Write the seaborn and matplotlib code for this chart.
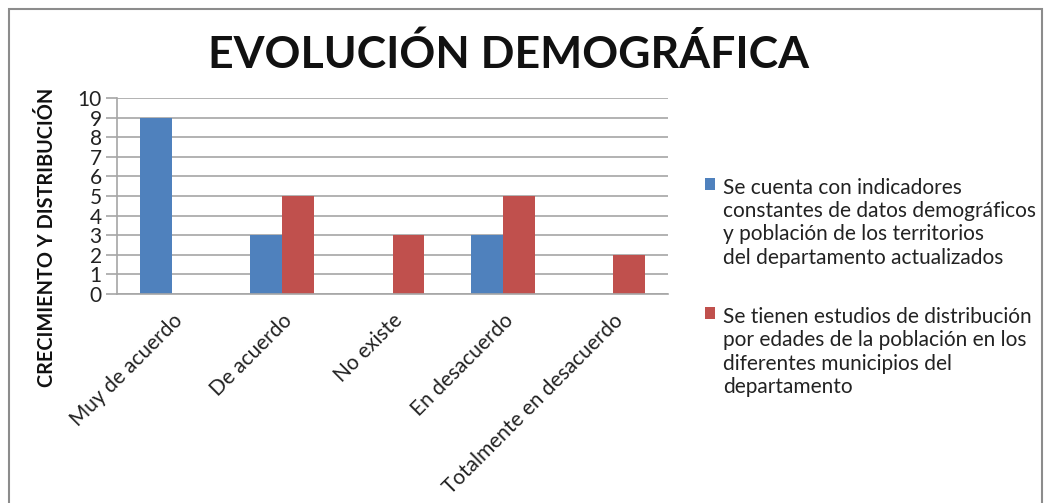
import matplotlib
matplotlib.use("Agg")
import matplotlib.pyplot as plt
import seaborn as sns
import pandas as pd
from matplotlib.patches import Rectangle, Patch

categories = ["Muy de acuerdo", "De acuerdo", "No existe", "En desacuerdo", "Totalmente en desacuerdo"]
series_names = [
    "Se cuenta con indicadores\nconstantes de datos demográficos\ny población de los territorios\ndel departamento actualizados",
    "Se tienen estudios de distribución\npor edades de la población en los\ndiferentes municipios del\ndepartamento",
]
serie_indicadores = [9, 3, 0, 3, 0]
serie_estudios = [0, 5, 3, 5, 2]
y_ticks = [0, 1, 2, 3, 4, 5, 6, 7, 8, 9, 10]
title = "EVOLUCIÓN DEMOGRÁFICA"
y_label = "CRECIMIENTO Y DISTRIBUCIÓN"
colors = ["#4F81BD", "#C0504D"]

df = pd.DataFrame({
    "categoria": categories * 2,
    "serie": [series_names[0]] * len(categories) + [series_names[1]] * len(categories),
    "valor": serie_indicadores + serie_estudios,
})

sns.set_theme(style="white")
plt.rcParams["font.family"] = ["Lato", "DejaVu Sans"]

fig = plt.figure(figsize=(10.5, 5.03), dpi=100)
fig.patch.set_facecolor("white")
fig.patches.append(Rectangle((9 / 1050, -0.05), 1033 / 1050, 1 - 9 / 503 + 0.05,
                             transform=fig.transFigure, fill=False,
                             edgecolor="#8c8c8c", linewidth=1.5))

ax = fig.add_axes([117 / 1050, 1 - 294 / 503, 551 / 1050, 196 / 503])
sns.barplot(data=df, x="categoria", y="valor", hue="serie", palette=colors,
            width=0.58, ax=ax, legend=False, saturation=1, linewidth=0)

ax.set_ylim(0, 10)
ax.set_xlim(-0.5, len(categories) - 0.5)
ax.set_yticks(y_ticks)
ax.set_yticklabels([str(t) for t in y_ticks], fontsize=15, color="#222222")
ax.yaxis.grid(True, color="#a6a6a6", linewidth=1.2)
ax.set_axisbelow(True)
for s in ["top", "right"]:
    ax.spines[s].set_visible(False)
ax.spines["left"].set_color("#a6a6a6")
ax.spines["bottom"].set_color("#a6a6a6")
ax.spines["left"].set_linewidth(1.2)
ax.spines["bottom"].set_linewidth(1.2)
ax.tick_params(axis="y", which="both", left=True, length=8, width=1.2, color="#a6a6a6", pad=3)
ax.tick_params(axis="x", bottom=False, pad=6)
ax.set_xticks(range(len(categories)))
ax.set_xticklabels(categories, rotation=45, ha="right", rotation_mode="anchor",
                   fontsize=15, color="#222222")
ax.set_xlabel("")
ax.set_ylabel("")

fig.text(47 / 1050, 1 - 237 / 503, y_label, rotation=90, ha="center", va="center",
         fontsize=14.3, fontweight="bold", color="#111111")

fig.text(509 / 1050, 1 - 54 / 503, title, ha="center", va="center",
         fontsize=32, fontweight="bold", color="#111111")

handles = [Patch(facecolor=c, edgecolor="none") for c in colors]
leg = fig.legend(handles, series_names, loc="upper left",
                 bbox_to_anchor=(705 / 1050, 1 - 178 / 503), frameon=False,
                 borderpad=0, borderaxespad=0,
                 fontsize=15, handlelength=0.5, handleheight=0.5, handletextpad=0.35,
                 labelspacing=1.9, labelcolor="#222222")
for col in leg._legend_handle_box.get_children():
    for row in col.get_children():
        row.align = "top"
for t in leg.get_texts():
    t.set_linespacing(1.2)

fig.savefig("out.png", dpi=100, facecolor="white")
